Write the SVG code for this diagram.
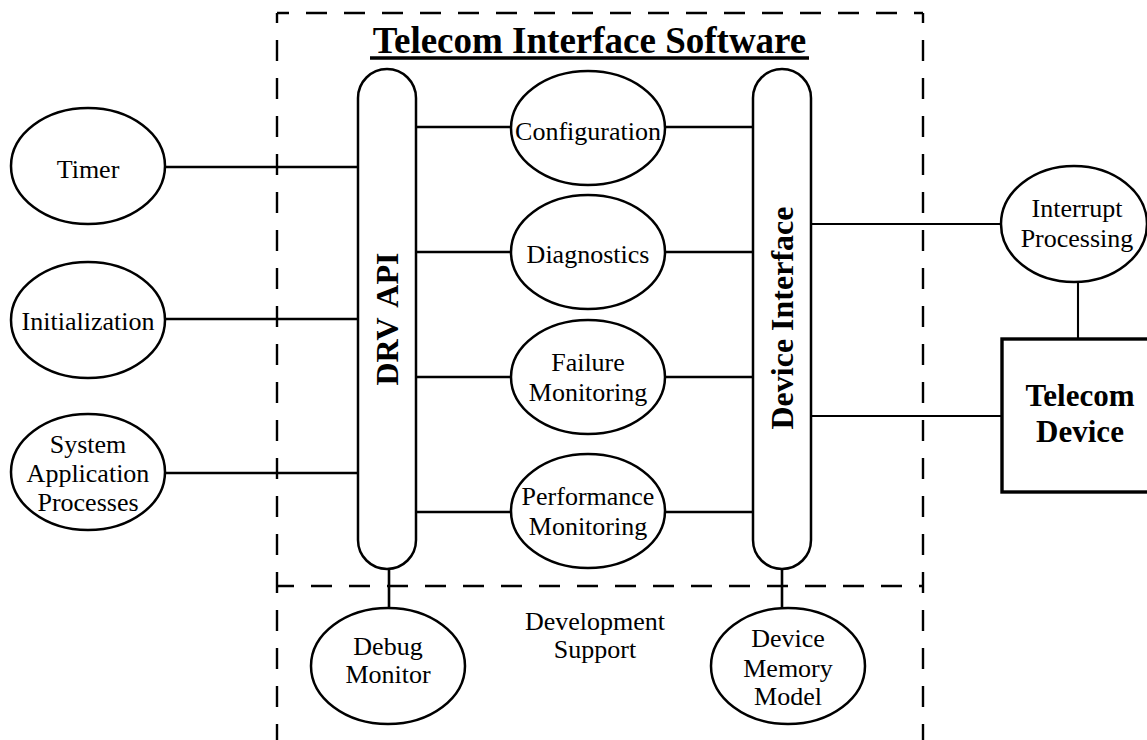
<svg xmlns="http://www.w3.org/2000/svg" width="1147" height="740" viewBox="0 0 1147 740">
  <style>
    .bg { fill: #ffffff; }
    .shape { fill: #ffffff; stroke: #000000; stroke-width: 2.5; }
    .box { fill: #ffffff; stroke: #000000; stroke-width: 3.4; }
    .link { stroke: #000000; stroke-width: 2.6; fill: none; }
    .thin { stroke: #000000; stroke-width: 2.1; fill: none; }
    .dash { stroke: #000000; stroke-width: 2.4; fill: none; stroke-dasharray: 21 17; }
    .lbl { font-family: "Liberation Serif", "Times New Roman", serif; font-size: 26px; fill: #000000; text-anchor: middle; }
    .bold { font-family: "Liberation Serif", "Times New Roman", serif; font-weight: bold; fill: #000000; text-anchor: middle; }
  </style>

  <rect class="bg" x="0" y="0" width="1147" height="740"/>

  <!-- software boundary and development-support partition -->
  <g id="boundary">
    <line class="dash" x1="277" y1="13" x2="923" y2="13" stroke-dashoffset="9"/>
    <line class="dash" x1="277" y1="13" x2="277" y2="740" stroke-dashoffset="11"/>
    <line class="dash" x1="923" y1="13" x2="923" y2="740" stroke-dashoffset="11"/>
    <line class="dash" x1="277" y1="586" x2="923" y2="586" stroke-dashoffset="4"/>
    <text class="bold" x="589.5" y="53" font-size="37">Telecom Interface Software</text>
    <line x1="370" y1="58" x2="809" y2="58" stroke="#000" stroke-width="3.6"/>
    <text class="lbl" x="595" y="630">Development</text>
    <text class="lbl" x="595" y="658">Support</text>
  </g>

  <!-- connectors -->
  <g id="connectors">
    <line class="link" x1="165" y1="167" x2="358" y2="167"/>
    <line class="link" x1="165" y1="319" x2="358" y2="319"/>
    <line class="link" x1="165" y1="473" x2="358" y2="473"/>
    <line class="link" x1="416" y1="127" x2="511" y2="127"/>
    <line class="link" x1="665" y1="127" x2="753" y2="127"/>
    <line class="link" x1="416" y1="252" x2="511" y2="252"/>
    <line class="link" x1="665" y1="252" x2="753" y2="252"/>
    <line class="link" x1="416" y1="377" x2="511" y2="377"/>
    <line class="link" x1="665" y1="377" x2="753" y2="377"/>
    <line class="link" x1="416" y1="512" x2="511" y2="512"/>
    <line class="link" x1="665" y1="512" x2="753" y2="512"/>
    <line class="thin" x1="811" y1="224" x2="1001" y2="224"/>
    <line class="thin" x1="811" y1="416" x2="1002" y2="416"/>
    <line class="thin" x1="1078" y1="282" x2="1078" y2="339"/>
    <line class="link" x1="389" y1="569" x2="389" y2="608"/>
    <line class="link" x1="782" y1="569" x2="782" y2="608"/>
  </g>

  <!-- external callers -->
  <g id="timer">
    <ellipse class="shape" cx="88" cy="166" rx="77" ry="58"/>
    <text class="lbl" x="88" y="178">Timer</text>
  </g>
  <g id="initialization">
    <ellipse class="shape" cx="88" cy="320" rx="77" ry="58"/>
    <text class="lbl" x="88" y="330">Initialization</text>
  </g>
  <g id="system-application-processes">
    <ellipse class="shape" cx="88" cy="472" rx="77" ry="58"/>
    <text class="lbl" x="88" y="453">System</text>
    <text class="lbl" x="88" y="482">Application</text>
    <text class="lbl" x="88" y="511">Processes</text>
  </g>

  <!-- API and device buses -->
  <g id="drv-api">
    <rect class="shape" x="358" y="69" width="58" height="500" rx="29" ry="29"/>
    <text class="bold" font-size="32" word-spacing="4" transform="translate(398 319) rotate(-90)">DRV API</text>
  </g>
  <g id="device-interface">
    <rect class="shape" x="753" y="69" width="58" height="500" rx="29" ry="29"/>
    <text class="bold" font-size="32" transform="translate(793 318) rotate(-90)">Device Interface</text>
  </g>

  <!-- core functions -->
  <g id="configuration">
    <ellipse class="shape" cx="588" cy="128" rx="77" ry="57"/>
    <text class="lbl" x="588" y="140">Configuration</text>
  </g>
  <g id="diagnostics">
    <ellipse class="shape" cx="588" cy="252" rx="77" ry="57"/>
    <text class="lbl" x="588" y="263">Diagnostics</text>
  </g>
  <g id="failure-monitoring">
    <ellipse class="shape" cx="588" cy="377" rx="77" ry="57"/>
    <text class="lbl" x="588" y="371">Failure</text>
    <text class="lbl" x="588" y="401">Monitoring</text>
  </g>
  <g id="performance-monitoring">
    <ellipse class="shape" cx="588" cy="511" rx="77" ry="57"/>
    <text class="lbl" x="588" y="505">Performance</text>
    <text class="lbl" x="588" y="535">Monitoring</text>
  </g>

  <!-- hardware side -->
  <g id="interrupt-processing">
    <ellipse class="shape" cx="1074" cy="224" rx="73" ry="58"/>
    <text class="lbl" x="1077" y="217">Interrupt</text>
    <text class="lbl" x="1077" y="247">Processing</text>
  </g>
  <g id="telecom-device">
    <rect class="box" x="1002" y="339" width="160" height="153"/>
    <text class="bold" font-size="31" x="1080" y="406">Telecom</text>
    <text class="bold" font-size="31" x="1080" y="442">Device</text>
  </g>

  <!-- development support tools -->
  <g id="debug-monitor">
    <ellipse class="shape" cx="388" cy="666" rx="77" ry="58"/>
    <text class="lbl" x="388" y="655">Debug</text>
    <text class="lbl" x="388" y="683">Monitor</text>
  </g>
  <g id="device-memory-model">
    <ellipse class="shape" cx="788" cy="666" rx="77" ry="58"/>
    <text class="lbl" x="788" y="647">Device</text>
    <text class="lbl" x="788" y="677">Memory</text>
    <text class="lbl" x="788" y="705">Model</text>
  </g>
</svg>
